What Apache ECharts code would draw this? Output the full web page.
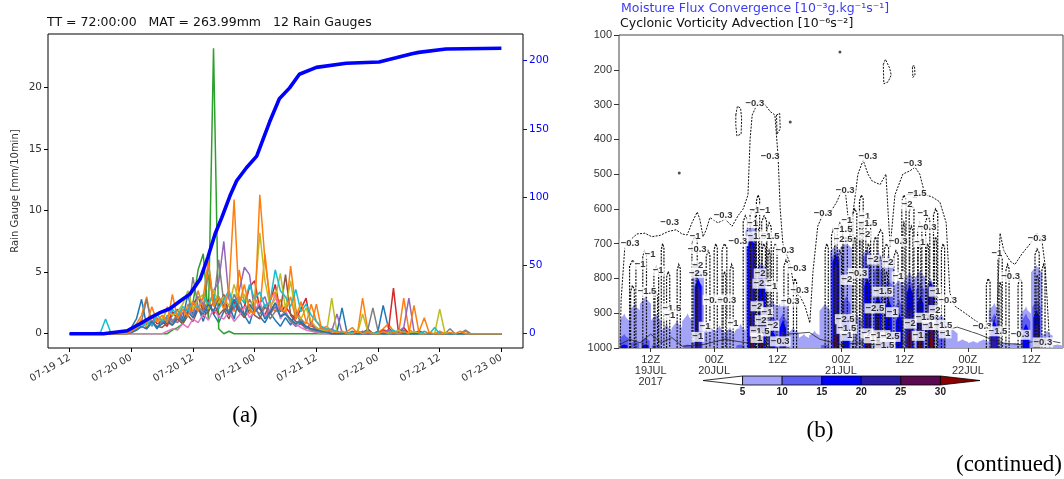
<!DOCTYPE html>
<html><head><meta charset="utf-8">
<script src="https://cdn.jsdelivr.net/npm/echarts@6/dist/echarts.min.js"></script>
<style>html,body{margin:0;padding:0;background:#fff}#c{width:1064px;height:479px}</style>
</head><body><div id="c"></div>
<script>
// ---------------- Panel (a): rain gauges ----------------
const gaugeStartHour = 6;           // first value of each gauge array is at this hour after 07-19 12
const endHour = 84;                 // 07-23 00
const xTickHours = [0,12,24,36,48,60,72,84];
const xTickLabels = ['07-19 12','07-20 00','07-20 12','07-21 00','07-21 12','07-22 00','07-22 12','07-23 00'];
const leftTicks = [0,5,10,15,20];
const rightTicks = [0,50,100,150,200];
const gaugeColors = ['#1f77b4','#ff7f0e','#2ca02c','#d62728','#9467bd','#8c564b','#e377c2','#7f7f7f','#bcbd22','#17becf','#1f77b4','#ff7f0e'];

const g1 = [0,0,0,0,0,0.2,0.5,1.2,2.8,0.6,1.0,0.4, 1.2,0.8,1.5,2.0,1.2,3.2,1.5,2.2,1.0,2.5,1.6,0.9, 1.8,2.4,1.2,2.9,1.5,0.8,2.2,1.4,0.9,1.7,1.1,0.6, 1.3,0.7,1.8,0.9,0.4,0.8,0.3,0.5,0.2,0.4,0.1,2.1, 0,0.2,0,0.1,0.3,0,0.2,2.3,0.5,0.1,0,0.3, 0,0.1,0.2,0,0,0,0.1,0,0,0,0,0, 0];
const g2 = [0,0,0,0,0,0,0.3,0.8,1.5,3.0,0.7,1.2, 0.9,2.2,1.0,1.6,0.8,2.4,1.8,3.5,2.1,4.8,2.6,3.0, 2.2,3.4,1.8,5.2,2.5,1.6,3.0,2.0,6.5,2.4,1.8,2.8, 1.5,5.5,2.0,1.2,0.8,2.4,1.0,0.4,0.6,0.2,0.1,0, 0.2,0.5,0,2.9,0.3,0,0.1,0.4,0.8,0.2,0,2.9, 0.3,0.1,0.2,1.3,0,0,0.2,0,0,0,0,0.2, 0];
const g3 = [0,0,0,0,0,0,0,0,0,0,0,0, 0,0,0.3,0.5,0.8,1.5,2.5,5.2,6.5,1.2,23.2,0.4, 0,0.2,0,0,0,0,0,0,0,0,0,0, 0];
const g4 = [0.1,0,0.1,0,0,0.2,0.3,0.6,1.0,0.5,1.4,0.8, 1.0,0.6,1.8,1.2,2.0,1.5,2.4,3.0,1.8,2.8,1.6,2.2, 3.2,1.5,2.6,1.8,2.2,3.8,4.3,2.0,1.5,2.6,4.0,1.8, 2.2,1.6,1.2,2.0,2.9,0.6,0.5,0.2,0.3,0,0.1,0, 0,0,0.2,0,0.4,0,0,0.3,0.2,3.7,0,0.5, 0,0,0.2,0,0,0,0,0,0,0,0,0, 0];
const g5 = [0,0,0,0,0,0.1,0.2,0.4,0.8,0.6,1.0,1.3, 0.8,1.5,1.1,0.9,1.7,2.0,1.5,3.0,2.4,2.0,3.5,4.2, 7.5,2.8,2.0,3.5,5.4,4.8,1.8,2.5,3.0,1.6,2.2,1.4, 1.8,1.0,0.6,0.8,0.4,0.9,0.2,0.5,0.3,0.2,1.6,0.1, 0,0,0,0.2,0,0,0,0.1,0.3,0,0.2,0.5, 2.9,0.2,0,0,0,0,0,0,0,0,0,0, 0];
const g6 = [0,0,0,0,0,0,0.1,0.3,0.6,0.4,0.9,0.6, 0.5,0.9,0.7,1.2,0.8,1.5,1.0,2.0,1.4,1.8,2.6,1.5, 2.0,1.2,2.4,1.8,1.3,2.0,1.5,1.2,2.2,1.6,2.5,1.8, 4.8,1.5,1.0,0.8,0.6,0.4,0.3,0.2,0.1,0,0,0, 0];
const g7 = [0,0,0,0,0,0,0,0,0,0,0,0, 0,0.2,0.4,0.3,0.8,0.5,1.2,0.9,1.6,1.1,2.0,1.4, 1.2,1.8,1.0,1.5,2.2,1.3,1.8,2.6,1.4,2.0,3.2,1.2, 1.8,1.0,0.8,0.5,0.3,0.2,0.1,0,0,0,0,0, 0];
const g8 = [0,0,0,0,0,0,0.2,0.5,1.0,2.8,0.6,1.2, 0.8,1.3,0.9,1.6,1.1,1.5,4.6,2.2,1.8,5.8,2.4,6.0, 2.5,1.8,3.2,2.2,1.5,2.8,2.0,1.6,2.4,1.2,1.8,2.0, 1.6,1.0,0.8,1.2,0.5,0.3,0.2,0.1,0.2,0,0,0, 0,0,0,0,0.3,2.1,0.2,0,0.1,0,0.3,0, 0,0,0.1,0,0,0,0,0,0.4,0,0,0.3, 0];
const g9 = [0,0,0,0,0,0,0.1,0.4,0.9,0.6,1.5,1.0, 1.2,2.0,1.5,1.8,2.4,3.5,2.0,2.8,3.2,2.0,3.6,2.5, 3.0,2.2,4.0,2.6,3.2,2.0,3.0,8.2,4.3,2.2,2.8,4.9, 2.0,4.3,1.5,1.2,2.1,1.0,0.5,0.3,0.2,2.9,0.1,0, 0,0.1,0,1.6,0.2,0,0,0,0.1,0,0.3,0, 0,0.2,0,0,0,0,2.0,0.1,0,0,0,0, 0];
const g10 = [0.1,1.2,0.1,0,0,0.1,0.2,0.8,0.5,1.0,0.7,1.6, 1.0,1.4,2.0,1.5,2.2,1.8,2.6,2.0,3.0,2.4,3.2,2.0, 2.8,3.5,2.2,3.0,2.5,4.0,2.8,3.4,2.2,2.6,5.2,3.5, 3.0,2.2,3.6,1.8,2.4,1.5,1.0,0.6,0.4,0.3,0.2,0.1, 0,0.1,0,0,0.2,0,0.1,0,0,0.3,0,0.1, 0,0,0,0.2,0,0.5,0,0,0,0,0,0, 0];
const g11 = [0,0,0,0,0,0,0.1,0.3,0.6,0.4,1.0,0.5, 0.8,1.1,0.7,1.4,1.0,1.8,1.3,2.0,1.6,2.4,1.8,3.0, 2.2,1.6,2.8,2.0,1.5,2.4,1.8,2.2,1.2,1.8,2.5,1.4, 1.6,1.2,0.8,1.0,0.6,0.4,0.3,0.2,0.1,0,0,0, 0];
const g12 = [0,0,0,0,0,0,0.2,0.5,1.2,0.8,2.2,1.0, 1.5,0.9,3.2,1.2,2.0,1.4,2.6,1.8,3.0,5.9,2.2,3.0, 2.0,3.5,10.9,2.4,4.0,2.0,1.6,11.3,6.0,2.8,3.4,2.0, 1.8,3.0,1.2,2.6,1.0,0.6,2.4,0.4,0.3,0.2,0.1,0.2, 0,0,0.2,0,0.1,0,0,0.2,0,0.1,0,0.2, 0,2.3,0,0,0.1,0,0,0,0.1,0,0.2,0, 0];
const gauges = [g1,g2,g3,g4,g5,g6,g7,g8,g9,g10,g11,g12];

const cumHours  = [0,6.6,11.2,13.7,15.7,17.6,19.5,21.5,23.4,25.4,26.9,28.3,29.6,31.2,32.5,34.4,36.4,37.5,38.9,40.8,42.8,44.7,48,53.8,60.2,63.5,66.6,67.9,73.2,84];
const cumValues = [0,0,2.2,7.3,11.7,15.4,18.3,24,29,40,56,73,85,101,112,121.5,130,141,155,172,180,190,195,198,199,202,205,206,208.5,209];

// ---------------- Panel (b): time–pressure section ----------------
const bTickHours = [12,24,36,48,60,72,84];   // hours after 19JUL 00Z
const bTickLabels = ['12Z\n19JUL\n2017','00Z\n20JUL','12Z','00Z\n21JUL','12Z','00Z\n22JUL','12Z'];
const colStart = 6, colHours = 2;            // shading columns, 2-hourly from 19JUL 06Z
const shadeColors = ['#a3a3f7','#5f5ff3','#0000ff','#2a1aa6','#5a0a52','#8b0000'];
const shade5Top  = [900,870,850,900,930,920,900,750,930,935,940,930,640,750,860,860,940,960,950,870,700,690,900,710,720,730,800,780,775,800,900,940,975,980,975,870,985,985,880,760,950,990];
const shade10Top = [960,980,970,990,1000,1000,990,800,1000,1000,1000,990,660,760,900,900,1000,1000,1000,990,720,850,1000,720,760,800,860,800,810,805,950,1000,1000,1000,1000,900,1000,1000,900,860,1000,1000];
const shade15Top = [990,1000,990,1000,1000,1000,1000,800,1000,1000,1000,1000,680,790,950,920,1000,1000,1000,1000,730,900,1000,800,850,860,900,820,850,810,1000,1000,1000,1000,1000,920,1000,1000,930,890,1000,1000];
const shade20Top = [1000,1000,1000,1000,1000,1000,1000,820,1000,1000,1000,1000,700,850,1000,950,1000,1000,1000,1000,760,1000,1000,880,900,1000,1000,880,900,820,1000,1000,1000,1000,1000,960,1000,1000,1000,930,1000,1000];
const shade25Top = [1000,1000,1000,1000,1000,1000,1000,1000,1000,1000,1000,1000,940,950,1000,1000,1000,1000,1000,1000,960,1000,1000,960,940,1000,1000,950,950,930,1000,1000,1000,1000,1000,1000,1000,1000,1000,1000,1000,1000];
const shade30Top = [1000,1000,1000,1000,1000,1000,1000,1000,1000,1000,1000,1000,1000,1000,1000,1000,1000,1000,1000,1000,1000,1000,1000,1000,1000,1000,1000,1000,985,970,1000,1000,1000,1000,1000,1000,1000,1000,1000,1000,1000,1000];
const shadeTops = [shade5Top,shade10Top,shade15Top,shade20Top,shade25Top,shade30Top];

// -0.3 contour envelope [hour, hPa]
const envelope = [[6.2,1000],[6.4,862],[7.1,710],[8.1,690],[9.4,672],[10.9,670],[12.2,680],[13.8,676],[15.3,665],[16.8,660],[17.9,672],[18.9,675],[19.8,640],[20.8,609],[21.3,630],[21.9,680],[22.5,660],[23.2,625],[24.7,640],[26.1,630],[27.4,650],[28.5,620],[29.5,600],[30.4,560],[30.8,400],[31.2,330],[32.1,300],[32.7,287],[33.6,300],[34.6,320],[35.5,330],[36.1,450],[36.5,600],[37.0,700],[38.4,760],[39.3,842],[40.2,850],[41.2,880],[42.1,928],[42.7,780],[43.6,650],[44.6,615],[45.9,612],[47.2,580],[48.2,545],[48.9,560],[49.7,680],[51.2,500],[52.2,460],[53.1,500],[53.9,520],[55.4,530],[56.5,500],[57.3,710],[58.2,560],[59.7,500],[61.1,490],[62.0,480],[62.9,500],[63.9,560],[65.2,565],[66.7,580],[67.9,640],[68.6,842],[69.6,880],[71.5,900],[73.3,920],[74.9,935],[76.2,950],[77.5,900],[78.1,670],[78.8,720],[80.0,750],[80.9,760],[82.2,730],[83.8,700],[85.1,670],[86.0,690],[86.6,760],[87.0,860],[87.5,1000]];
const upperLoop1 = [[28.1,330],[28.4,305],[29.0,310],[29.2,340],[29.1,385],[28.3,390],[28.1,360],[28.1,330]];
const upperLoop2 = [[35.8,330],[36.4,325],[36.5,370],[35.9,385],[35.8,330]];
const upperLoop3 = [[56.0,185],[56.4,170],[57.2,195],[57.5,215],[56.9,235],[56.1,240],[56.0,185]];
const upperLoop4 = [[61.5,190],[61.9,188],[62.0,215],[61.6,222],[61.5,190]];
// inner (stronger) contours: [hourLeft, hourRight, topPressure]
const innerLoops = [[8.0,9.2,747],[10.5,11.2,720],[12.6,13.5,766],[14.0,14.5,700],[15.0,15.6,780],[17.0,17.6,760],[19.8,20.8,680],[22.5,23.2,720],[24.0,24.6,700],[25.5,26.4,700],[27.0,27.6,760],[29.5,30.3,620],[30.8,31.8,600],[32.0,32.6,560],[33.0,33.9,620],[34.0,34.8,640],[35.2,35.9,700],[37.2,38.0,747],[39.0,39.6,800],[45.0,45.6,700],[46.2,46.8,660],[47.3,48.3,640],[48.5,49.2,680],[50.2,51.0,600],[51.5,52.2,560],[52.7,53.6,640],[54.2,54.8,680],[55.0,55.9,660],[56.2,57.0,700],[58.0,58.8,720],[59.5,60.3,560],[60.9,61.8,590],[62.5,63.3,640],[64.0,64.8,620],[65.5,66.3,600],[67.0,67.6,700],[75.5,76.2,800],[77.7,78.5,730],[79.2,79.8,760],[81.5,82.2,800],[84.7,85.5,715],[86.0,86.6,760]];
const innerLoops2 = [[8.2,8.9,820],[12.8,13.3,840],[20.0,20.6,760],[25.7,26.2,780],[30.9,31.6,680],[31.9,32.4,640],[33.1,33.7,700],[34.2,34.6,720],[47.5,48.1,720],[50.4,50.8,680],[51.6,52.0,640],[52.9,53.4,700],[55.1,55.7,740],[56.4,56.8,780],[59.7,60.1,640],[61.0,61.6,650],[62.6,63.1,700],[64.2,64.6,700],[65.7,66.1,680],[77.9,78.3,810],[84.9,85.3,790]];
const solidContour = [[6.2,990],[8,975],[10,985],[12,960],[14,985],[16,970],[18,995],[22,990],[26,975],[30,985],[34,990],[38,960],[42,955],[44,975],[48,990],[52,985],[56,995],[60,985],[66,955],[70,940],[74,960],[78,985],[82,990],[86,975],[89.5,985]];
const specks = [[17.4,497],[38.4,350],[47.8,149],[48.2,712]];
const contourLabels = [[8.1,700,'−0.3'],[15.6,638,'−0.3'],[10.0,760,'−1'],[11.9,730,'−1'],[13.4,778,'−1'],[11.3,838,'−1.5'],[16.0,886,'−1.5'],[15.6,905,'−1'],[20.4,680,'−1'],[20.8,715,'−0.3'],[20.9,763,'−2'],[21.0,784,'−2.5'],[25.7,619,'−0.3'],[28.5,693,'−0.3'],[23.8,862,'−0.3'],[26.4,862,'−0.3'],[22.3,939,'−1'],[27.6,930,'−1'],[20.9,968,'−1'],[31.7,296,'−0.3'],[34.6,450,'−0.3'],[31.7,603,'−1'],[33.6,603,'−1'],[31.3,641,'−1'],[32.1,679,'−1.5'],[34.6,679,'−1.5'],[32.7,786,'−2'],[33.2,815,'−2.5'],[34.9,824,'−1'],[37.4,718,'−0.3'],[39.7,770,'−0.3'],[40.2,833,'−0.3'],[38.4,866,'−0.3'],[32.1,880,'−2'],[34.0,897,'−1'],[32.9,920,'−2'],[35.1,936,'−2'],[32.7,952,'−1.5'],[32.1,971,'−1'],[36.5,981,'−0.3'],[48.8,546,'−0.3'],[44.6,614,'−0.3'],[49.1,632,'−1'],[48.4,660,'−1.5'],[48.4,688,'−2.5'],[51.2,785,'−0.3'],[49.1,804,'−2'],[48.8,917,'−2.5'],[49.1,945,'−1.5'],[49.1,965,'−1'],[53.1,450,'−0.3'],[52.5,621,'−1'],[53.1,641,'−1.5'],[52.5,674,'−2'],[54.1,746,'−2'],[58.8,693,'−0.3'],[56.9,755,'−2'],[55.9,838,'−1.5'],[54.4,886,'−2.5'],[57.7,897,'−1'],[52.9,958,'−2'],[53.5,972,'−1'],[55.4,963,'−1.5'],[57.3,968,'−2.5'],[56.3,992,'−1.5'],[61.6,468,'−0.3'],[61.4,562,'−1'],[62.4,555,'−1.5'],[60.5,588,'−2'],[63.5,612,'−1'],[64.3,652,'−0.3'],[58.8,794,'−1'],[62.9,695,'−1'],[65.8,838,'−1'],[65.8,891,'−2'],[61.1,930,'−2'],[63.9,913,'−1.5'],[62.6,965,'−1'],[64.5,934,'−1'],[68.2,862,'−0.3'],[67.3,934,'−1.5'],[67.7,958,'−1'],[74.7,939,'−0.3'],[77.5,728,'−1'],[80.1,795,'−0.3'],[77.7,952,'−1.5'],[85.1,684,'−0.3'],[81.9,962,'−0.3'],[86.2,984,'−0.3']];

// colour bar
const cbBounds = [0,5,10,15,20,25,30,35];
const cbColors = ['#ffffff','#a3a3f7','#5f5ff3','#0000ff','#2a1aa6','#5a0a52','#8b0000'];
const cbTicks = [5,10,15,20,25,30];

// ---------------- build ----------------
const chart = echarts.init(document.getElementById('c'), null, {renderer:'canvas'});
const series = [];
gauges.forEach((arr, k) => {
  const data = [[0,0]];
  arr.forEach((v,i) => data.push([gaugeStartHour + i, v]));
  data.push([endHour, 0]);
  series.push({type:'line', xAxisIndex:0, yAxisIndex:0, data, showSymbol:false, symbol:'none',
    lineStyle:{width:1.5, color:gaugeColors[k]}, itemStyle:{color:gaugeColors[k]}, z:2});
});
series.push({type:'line', xAxisIndex:0, yAxisIndex:1, data:cumHours.map((h,i)=>[h,cumValues[i]]), symbol:'none',
  lineStyle:{width:3.6, color:'#0000ff'}, z:5});

// shading (pointed tops give the streaky look of the original)
const shadeData = [];
const shrink = [0, 0.25, 0.45, 0.6, 0.7, 0.75];
shadeTops.forEach((arr, l) => arr.forEach((top, i) => { if (top < 1000) shadeData.push([colStart + i*colHours, top, l]); }));
series.push({type:'custom', xAxisIndex:1, yAxisIndex:2, clip:true, z:1, data:shadeData,
  renderItem:(params, api) => {
    const h0 = api.value(0), top = api.value(1), l = api.value(2), s = shrink[l];
    const p1 = api.coord([h0 + s, top]), p2 = api.coord([h0 + colHours - s, 1000]);
    const k = Math.min(8, (p2[1]-p1[1]) * 0.3);
    const xm = (p1[0] + p2[0]) / 2;
    const pts = [[p1[0]-0.3, p2[1]], [p1[0]-0.3, p1[1]+k], [xm - 1, p1[1]+k*0.3], [xm, p1[1]], [xm + 1.5, p1[1]+k*0.5], [p2[0]+0.3, p1[1]+k], [p2[0]+0.3, p2[1]]];
    return {type:'polygon', shape:{points:pts}, style:{fill:shadeColors[l]}};
  }});
const dashStyle = {color:'#111', width:1, type:[2,1.3]};
[envelope, upperLoop1, upperLoop2, upperLoop3, upperLoop4].forEach(d => {
  series.push({type:'line', xAxisIndex:1, yAxisIndex:2, data:d, symbol:'none', lineStyle:dashStyle, z:3});
});
series.push({type:'line', xAxisIndex:1, yAxisIndex:2, data:solidContour, symbol:'none', lineStyle:{color:'#222', width:0.8}, z:3});
[innerLoops, innerLoops2].forEach(d => {
  series.push({type:'custom', xAxisIndex:1, yAxisIndex:2, clip:true, z:3, data:d,
    renderItem:(params, api) => {
      const hl = api.value(0), hr = api.value(1), top = api.value(2);
      const a = api.coord([hl,1000]), b = api.coord([hl,top]), c = api.coord([(hl+hr)/2, top]), e = api.coord([hr,1000]);
      return {type:'polyline', shape:{points:[a,[b[0],b[1]+6],c,[e[0],b[1]+4],e]},
        style:{stroke:'#111', fill:null, lineWidth:1.2, lineDash:[2,1.2]}};
    }});
});
series.push({type:'scatter', xAxisIndex:1, yAxisIndex:2, data:specks, symbolSize:3, itemStyle:{color:'#222'}, z:3});
series.push({type:'scatter', xAxisIndex:1, yAxisIndex:2, z:6, symbolSize:1, itemStyle:{color:'rgba(0,0,0,0)'},
  data:contourLabels.map(d => ({value:[d[0], d[1]], name:d[2]})),
  label:{show:true, position:'inside', formatter:'{b}', fontSize:9.5, fontWeight:'bold', color:'#000',
    backgroundColor:'#fff', padding:[0,1], fontFamily:'Liberation Sans'}, labelLayout:{hideOverlap:false}});

// colour bar
series.push({type:'custom', xAxisIndex:2, yAxisIndex:3, z:2,
  data:cbColors.map((c,i)=>[cbBounds[i], cbBounds[i+1], i]),
  renderItem:(params, api) => {
    const lo = api.value(0), hi = api.value(1), i = api.value(2);
    let pts;
    if (i === 0) pts = [api.coord([lo,0.5]), api.coord([hi,1]), api.coord([hi,0])];
    else if (i === cbColors.length-1) pts = [api.coord([lo,1]), api.coord([hi,0.5]), api.coord([lo,0])];
    else pts = [api.coord([lo,1]), api.coord([hi,1]), api.coord([hi,0]), api.coord([lo,0])];
    return {type:'polygon', shape:{points:pts}, style:{fill:cbColors[i], stroke:'#000', lineWidth:0.8}};
  }});

const fA = 'DejaVu Sans', fB = 'Liberation Sans';
const option = {
  animation:false,
  backgroundColor:'#fff',
  grid:[
    {left:48, top:34, width:475, height:314, show:true, borderColor:'#000', borderWidth:1},
    {left:619, top:35, width:444, height:313, show:true, borderColor:'#444', borderWidth:1},
    {left:703, top:376, width:277, height:9}
  ],
  xAxis:[
    {gridIndex:0, type:'value', min:-4.2, max:88.2, splitLine:{show:false}, axisLine:{show:false, onZero:false},
     axisTick:{show:true, customValues:xTickHours, length:4, lineStyle:{color:'#000'}},
     axisLabel:{customValues:xTickHours, rotate:30, fontSize:10, color:'#333', fontFamily:fA, margin:9,
       formatter:v => xTickLabels[xTickHours.indexOf(Math.round(v))]}},
    {gridIndex:1, type:'value', min:6, max:90, splitLine:{show:false}, axisLine:{show:false, onZero:false},
     axisTick:{show:true, customValues:bTickHours, length:4, lineStyle:{color:'#333'}},
     axisLabel:{customValues:bTickHours, fontSize:11, lineHeight:11, color:'#333', fontFamily:fB, margin:6,
       formatter:v => bTickLabels[bTickHours.indexOf(Math.round(v))]}},
    {gridIndex:2, type:'value', min:0, max:35, splitLine:{show:false}, axisLine:{show:false, onZero:false}, axisTick:{show:false},
     axisLabel:{customValues:cbTicks, fontSize:10, fontWeight:'bold', color:'#222', fontFamily:fB, margin:2}}
  ],
  yAxis:[
    {gridIndex:0, type:'value', min:-1.16, max:24.36, splitLine:{show:false}, axisLine:{show:false, onZero:false},
     axisTick:{show:true, customValues:leftTicks, length:4, lineStyle:{color:'#000'}},
     axisLabel:{customValues:leftTicks, fontSize:10.5, color:'#333', fontFamily:fA, margin:6},
     name:'Rain Gauge [mm/10min]', nameLocation:'middle', nameGap:28, nameTextStyle:{fontSize:10, color:'#333', fontFamily:fA}},
    {gridIndex:0, type:'value', position:'right', min:-10.45, max:219.45, splitLine:{show:false}, axisLine:{show:false, onZero:false},
     axisTick:{show:true, customValues:rightTicks, length:4, lineStyle:{color:'#0000ff'}},
     axisLabel:{customValues:rightTicks, fontSize:10.5, color:'#0000ff', fontFamily:fA, margin:6}},
    {gridIndex:1, type:'value', min:100, max:1000, interval:100, inverse:true, splitLine:{show:false}, axisLine:{show:false, onZero:false},
     axisTick:{show:true, length:5, lineStyle:{color:'#333'}},
     axisLabel:{fontSize:11, color:'#333', fontFamily:fB, margin:7, formatter:v => String(v)}},
    {gridIndex:2, type:'value', min:0, max:1, show:false}
  ],
  graphic:[
    {type:'text', left:47, top:16, style:{text:'TT = 72:00:00   MAT = 263.99mm   12 Rain Gauges', font:'12.5px "DejaVu Sans"', fill:'#111'}},
    {type:'text', left:621, top:2, style:{text:'Moisture Flux Convergence [10⁻³g.kg⁻¹s⁻¹]', font:'12.5px "DejaVu Sans"', fill:'#3c3cf0'}},
    {type:'text', left:620, top:17, style:{text:'Cyclonic Vorticity Advection [10⁻⁶s⁻²]', font:'12.5px "DejaVu Sans"', fill:'#111'}},
    {type:'text', x:245, y:416, style:{text:'(a)', font:'23px "Liberation Serif"', fill:'#000', align:'center', verticalAlign:'middle'}},
    {type:'text', x:820, y:431, style:{text:'(b)', font:'23px "Liberation Serif"', fill:'#000', align:'center', verticalAlign:'middle'}},
    {type:'text', x:956, y:465, style:{text:'(continued)', font:'23px "Liberation Serif"', fill:'#000', align:'left', verticalAlign:'middle'}}
  ],
  series
};
chart.setOption(option);
</script></body></html>
